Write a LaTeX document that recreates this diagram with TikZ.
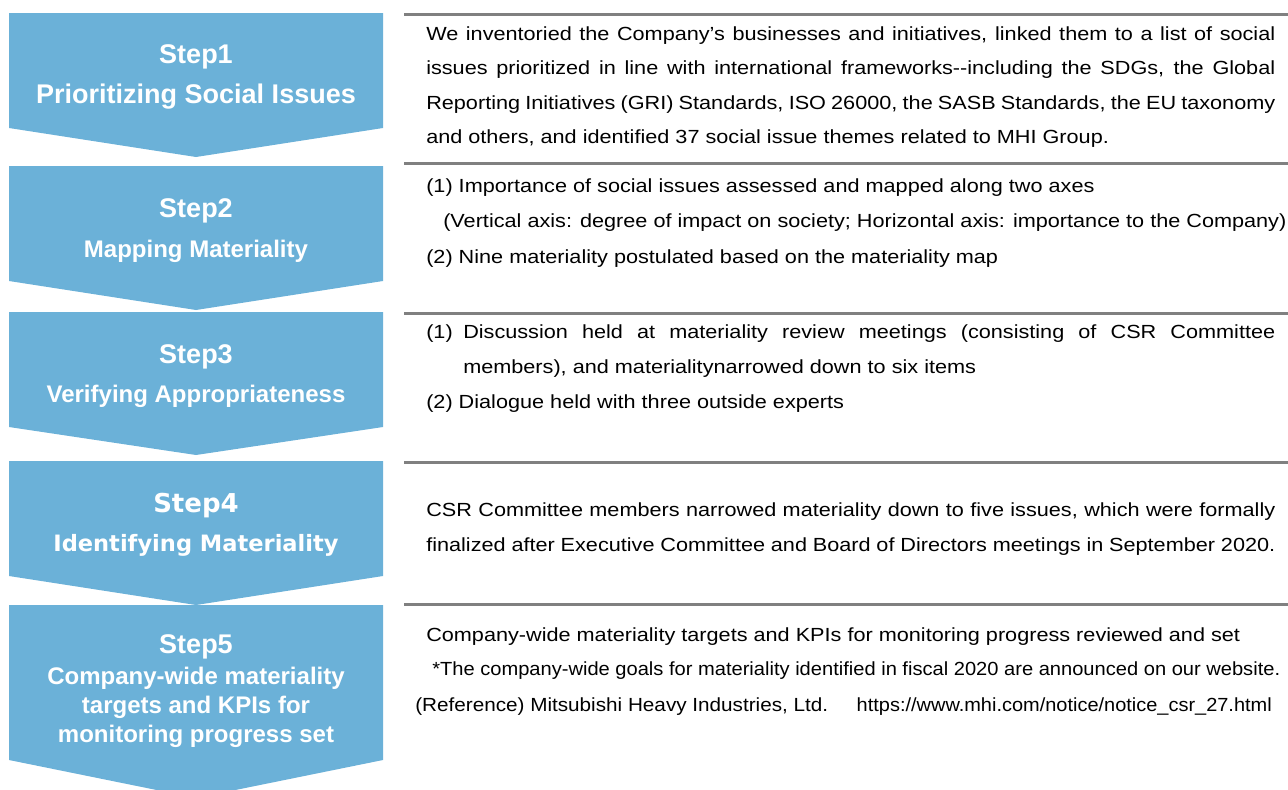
\documentclass[tikz,border=0pt]{standalone}
\usepackage{fontspec}
\usepackage{graphicx}
\setmainfont{Liberation Sans}
\newfontfamily\bodyfont[FakeStretch=1.14]{Liberation Sans}
\newfontfamily\stepfourfont{DejaVu Sans}
\usetikzlibrary{positioning,calc}
\definecolor{stepblue}{RGB}{107,177,216}
\definecolor{rulegray}{RGB}{128,128,128}

\begin{document}
\begin{tikzpicture}[
    x=0.75pt, y=-0.75pt,
    steplabel/.style={anchor=base, inner sep=0pt, text=white, font=\bfseries\fontsize{20.25}{24}\selectfont},
    stepname/.style={anchor=base, inner sep=0pt, text=white, align=center, font=\bfseries\fontsize{18}{21.75}\selectfont},
    body/.style={anchor=base west, inner sep=0pt, text width=636.75pt, align=justify, font=\bodyfont\fontsize{14.25}{26.6}\selectfont},
    bodyline/.style={anchor=base west, inner sep=0pt, font=\bodyfont\fontsize{14.25}{26.6}\selectfont},
    rule/.style={draw=rulegray, line width=2.25pt}
]
\useasboundingbox (0,0) rectangle (1288,789);

% Chevrons
\foreach \t/\s/\p in {13/128/157, 166/281/310, 312/427/455, 461/576/605, 605/760/798}
  \fill[stepblue] (9,\t) -- (383,\t) -- (383,\s) -- (196,\p) -- (9,\s) -- cycle;

% Separator lines
\foreach \y in {14,163,313,462,604}
  \draw[rule] (404,\y) -- (1288,\y);

% Step 1
\node [steplabel] (step1) at (196,63) {Step1};
\node [steplabel] (name1) at (196,103) {Prioritizing Social Issues};
\node [body, font=\bodyfont\fontsize{14.25}{25.9}\selectfont] (text1) at (426,40) {We inventoried the Company’s businesses and initiatives, linked them to a list of social\linebreak issues prioritized in line with international frameworks-{}-including the SDGs, the Global\linebreak Reporting Initiatives (GRI) Standards, ISO 26000, the SASB Standards, the EU taxonomy\linebreak and others, and identified 37 social issue themes related to MHI Group.};

% Step 2 (base of a ragged node is its last line)
\node [steplabel] (step2) at (196,217) {Step2};
\node [stepname] (name2) at (196,257) {Mapping Materiality};
\node [bodyline, align=left] (text2) at (426,263) {(1) Importance of social issues assessed and mapped along two axes\\
\hspace*{12.75pt}(Vertical axis: degree of impact on society; Horizontal axis: importance to the Company)\\
(2) Nine materiality postulated based on the materiality map};

% Step 3
\node [steplabel] (step3) at (196,363) {Step3};
\node [stepname] (name3) at (196,402) {Verifying Appropriateness};
\node [body] (text3) at (426,338) {\hangindent=27.75pt \hangafter=1 \makebox[27.75pt][l]{(1)}Discussion held at materiality review meetings (consisting of CSR Committee\linebreak members), and materialitynarrowed down to six items\par
(2) Dialogue held with three outside experts};

% Step 4
\node [steplabel, font=\stepfourfont\bfseries\fontsize{19.5}{24}\selectfont] (step4) at (196,512) {Step4};
\node [stepname, font=\stepfourfont\bfseries\fontsize{16.9}{21}\selectfont] (name4) at (196,551) {Identifying Materiality};
\node [body] (text4) at (426,516) {CSR Committee members narrowed materiality down to five issues, which were formally\linebreak finalized after Executive Committee and Board of Directors meetings in September 2020.};

% Step 5
\node [steplabel] (step5) at (196,653) {Step5};
\node [stepname] (name5) at (196,742) {Company-wide materiality\\targets and KPIs for\\monitoring progress set};
\node [bodyline] (text5) at (426,641) {Company-wide materiality targets and KPIs for monitoring progress reviewed and set};
\node [bodyline] (note5) at (432,675) {\resizebox{636pt}{\height}{*The company-wide goals for materiality identified in fiscal 2020 are announced on our website.}};
\node [bodyline] (ref5) at (415,711) {\resizebox{309.75pt}{\height}{(Reference) Mitsubishi Heavy Industries, Ltd.}};
\node [bodyline, anchor=base east] (url5) at (1272,711) {\resizebox{311.25pt}{\height}{https://www.mhi.com/notice/notice\_csr\_27.html}};

\end{tikzpicture}
\end{document}
